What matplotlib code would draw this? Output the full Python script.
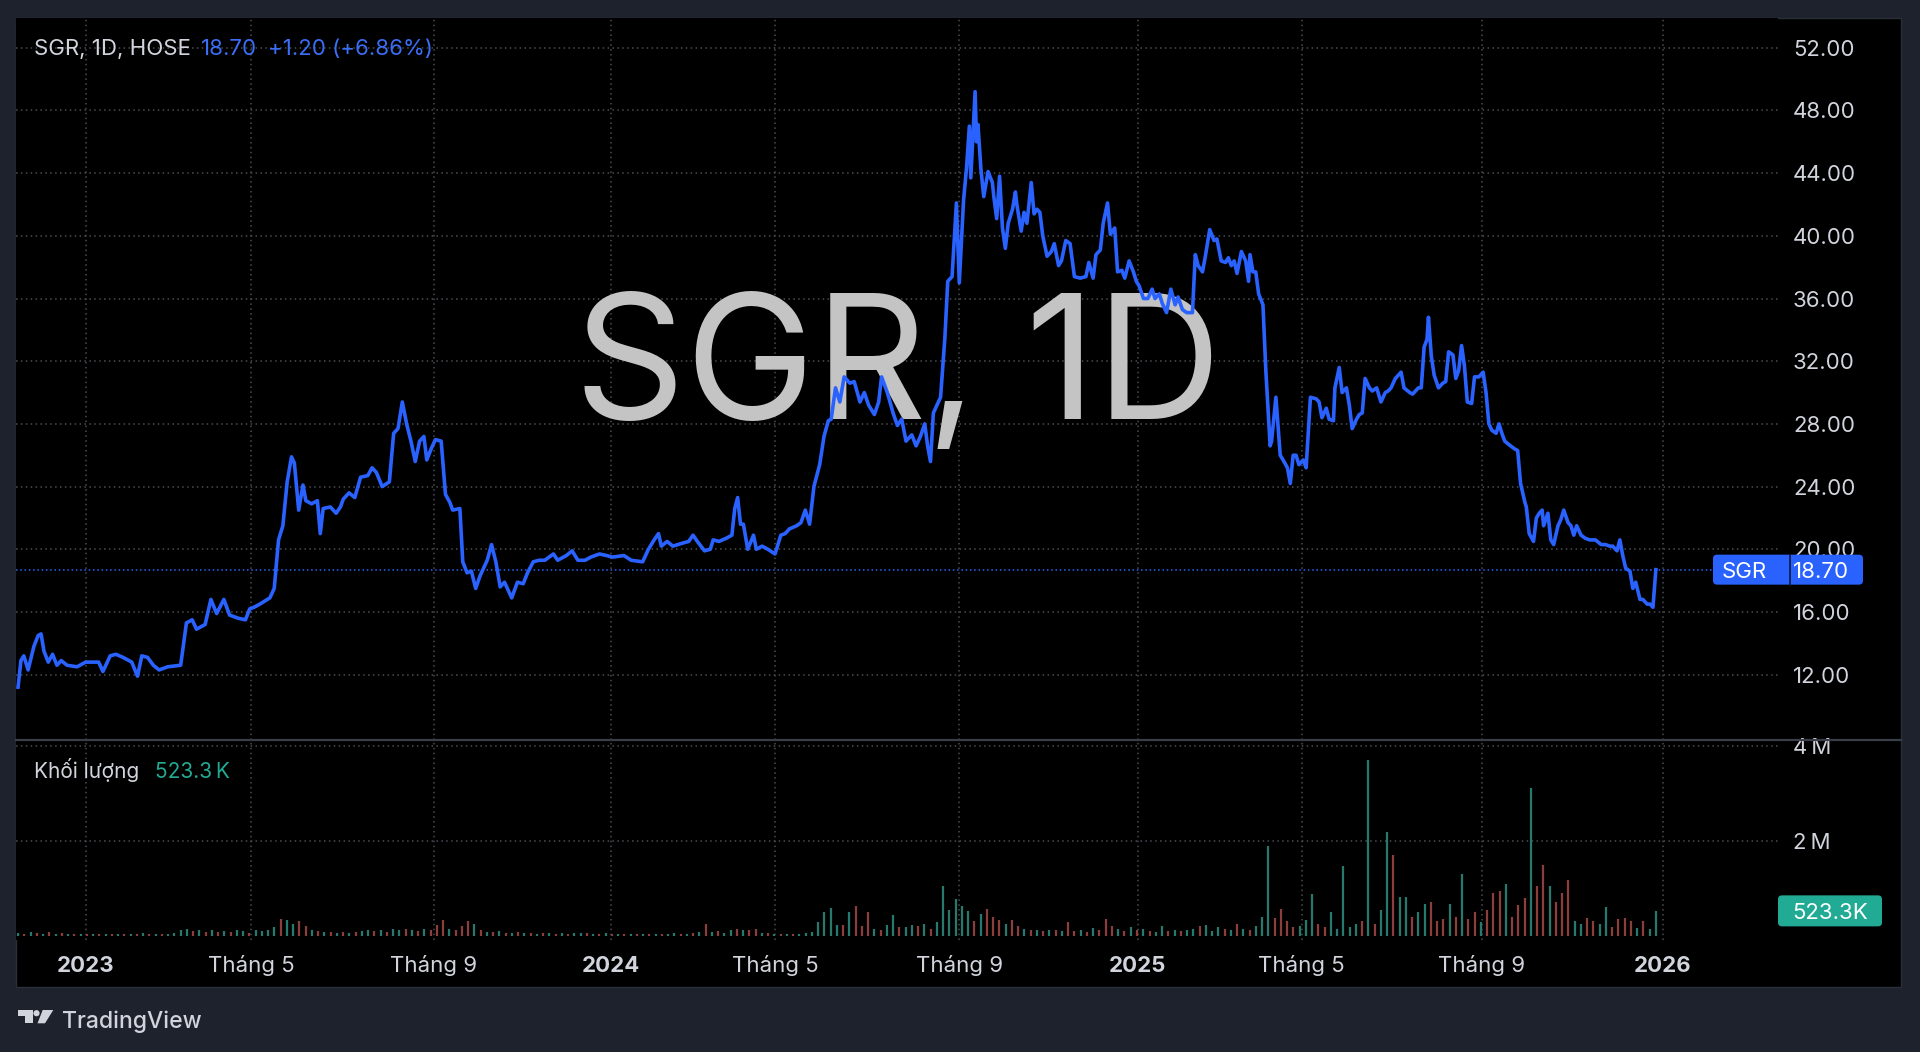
import matplotlib
matplotlib.use('Agg')
import matplotlib.pyplot as plt
import matplotlib.dates as mdates
from matplotlib.patches import Rectangle, FancyBboxPatch, Circle, Polygon
from matplotlib.lines import Line2D
from matplotlib.transforms import IdentityTransform, blended_transform_factory
import pandas as pd

plt.rcParams['font.family'] = ['Inter', 'DejaVu Sans']

# daily close of SGR (HOSE), one line per month
d22 = ['11-15', '11-17', '11-19', '11-22', '11-26', '11-29',
       '12-01', '12-03', '12-06', '12-09', '12-12', '12-15', '12-19', '12-26']
c22 = [11.2, 12.9, 13.2, 12.3, 13.8, 14.5,
       14.6, 13.5, 12.8, 13.3, 12.6, 12.9, 12.6, 12.5]

d23 = ['01-01', '01-10', '01-13', '01-18', '01-22', '01-27',
       '02-02', '02-06', '02-09', '02-13', '02-17', '02-21', '02-27',
       '03-08', '03-12', '03-16', '03-19', '03-25', '03-29',
       '04-02', '04-07', '04-11', '04-17', '04-22', '04-25', '04-28',
       '05-02', '05-09', '05-12', '05-15', '05-18', '05-21', '05-24', '05-26', '05-29',
       '06-01', '06-03', '06-07', '06-11', '06-13', '06-15', '06-20', '06-24', '06-27', '06-29',
       '07-03', '07-07', '07-11', '07-16', '07-19', '07-22', '07-26', '07-31',
       '08-03', '08-06', '08-09', '08-12', '08-15', '08-18', '08-21', '08-24', '08-26', '08-29',
       '09-01', '09-05', '09-08', '09-11', '09-13', '09-18', '09-20', '09-23', '09-26', '09-29',
       '10-02', '10-07', '10-10', '10-13', '10-16', '10-19', '10-24', '10-28',
       '11-01', '11-04', '11-08', '11-12', '11-16', '11-22', '11-25',
       '12-01', '12-05', '12-09', '12-14', '12-18', '12-24', '12-29']
c23 = [12.8, 12.8, 12.2, 13.2, 13.3, 13.1,
       12.8, 11.9, 13.2, 13.1, 12.6, 12.3, 12.5,
       12.6, 15.3, 15.5, 14.9, 15.2, 16.8,
       15.9, 16.8, 15.8, 15.6, 15.5, 16.2, 16.3,
       16.5, 16.9, 17.5, 20.6, 21.5, 24.3, 25.9, 25.5, 22.5,
       24.1, 23.1, 22.9, 23.1, 21.0, 22.6, 22.7, 22.3, 22.7, 23.2,
       23.6, 23.3, 24.6, 24.7, 25.2, 24.9, 24.0, 24.3,
       27.4, 27.7, 29.4, 28.0, 26.9, 25.6, 26.9, 27.2, 25.7, 26.4,
       27.0, 26.9, 23.5, 23.0, 22.5, 22.6, 19.2, 18.5, 18.6, 17.5,
       18.3, 19.3, 20.3, 19.2, 17.6, 17.9, 16.9, 17.9,
       17.8, 18.5, 19.2, 19.3, 19.3, 19.7, 19.3,
       19.6, 19.9, 19.3, 19.3, 19.5, 19.7, 19.6]

d24 = ['01-02', '01-10', '01-15', '01-23', '01-27', '01-31',
       '02-03', '02-05', '02-09', '02-13', '02-20', '02-24', '02-27',
       '03-01', '03-06', '03-10', '03-12', '03-16', '03-21', '03-25', '03-27', '03-29', '03-31',
       '04-02', '04-05', '04-09', '04-11', '04-15', '04-19', '04-24', '04-28',
       '05-01', '05-04', '05-09', '05-12', '05-15', '05-18', '05-21', '05-25', '05-28', '05-31',
       '06-02', '06-05', '06-08', '06-11', '06-15', '06-18', '06-22', '06-25', '06-28',
       '07-02', '07-05', '07-07', '07-11', '07-15', '07-18', '07-21', '07-24', '07-28', '07-31',
       '08-03', '08-06', '08-08', '08-10', '08-12', '08-15', '08-17', '08-20', '08-22', '08-25', '08-28', '08-30',
       '09-02', '09-04', '09-06', '09-07', '09-10', '09-11', '09-12', '09-14', '09-16', '09-19', '09-22',
       '09-23', '09-25', '09-27', '09-29',
       '10-01', '10-03', '10-06', '10-08', '10-09', '10-12', '10-14', '10-16', '10-19', '10-21', '10-23',
       '10-25', '10-27', '10-30',
       '11-02', '11-04', '11-07', '11-09', '11-12', '11-15', '11-18', '11-22', '11-26', '11-28',
       '12-01', '12-03', '12-06', '12-08', '12-11', '12-13', '12-16', '12-18', '12-21', '12-23', '12-26',
       '12-29', '12-31']
c24 = [19.5, 19.6, 19.3, 19.2, 20.0, 20.6,
       21.0, 20.2, 20.5, 20.2, 20.4, 20.5, 20.9,
       20.5, 19.9, 20.0, 20.6, 20.5, 20.7, 20.9, 22.6, 23.3, 21.6,
       21.6, 20.0, 20.9, 20.0, 20.2, 20.0, 19.7, 20.9,
       21.0, 21.3, 21.5, 21.7, 22.5, 21.6, 24.0, 25.4, 27.2, 28.2,
       28.3, 30.3, 29.4, 31.0, 30.6, 30.7, 29.4, 30.0, 29.2,
       28.6, 29.4, 31.0, 30.0, 28.7, 27.9, 28.3, 26.9, 27.3, 26.6,
       27.2, 28.0, 26.6, 25.6, 28.7, 29.3, 29.7, 33.5, 37.1, 37.4, 42.1, 37.0,
       42.3, 44.3, 47.0, 43.7, 49.2, 46.0, 47.1, 44.3, 42.5, 44.1, 43.4,
       42.5, 41.1, 43.8, 40.5,
       39.2, 40.8, 41.7, 42.8, 42.0, 40.3, 41.5, 40.8, 43.4, 41.4, 41.7,
       41.5, 40.0, 38.7,
       39.0, 39.5, 38.1, 38.4, 39.7, 39.5, 37.4, 37.3, 37.4, 38.3,
       37.3, 38.8, 39.1, 40.8, 42.1, 40.1, 40.5, 37.7, 37.8, 37.3, 38.4,
       37.7, 37.1]

d25 = ['01-02', '01-05', '01-08', '01-11', '01-13', '01-16', '01-18', '01-21', '01-24', '01-27', '01-29',
       '02-01', '02-04', '02-08', '02-10', '02-12', '02-15', '02-17', '02-20', '02-23', '02-25', '02-28',
       '03-03', '03-05', '03-07', '03-09', '03-11', '03-14', '03-17', '03-19', '03-20', '03-22', '03-24',
       '03-26', '03-29', '03-31',
       '04-03', '04-04', '04-07', '04-10', '04-12', '04-15', '04-17', '04-19', '04-21', '04-23', '04-26', '04-28',
       '05-01', '05-05', '05-07', '05-09', '05-12', '05-14', '05-17', '05-18', '05-21', '05-23', '05-26',
       '05-28', '05-30',
       '06-02', '06-04', '06-06', '06-08', '06-11', '06-13', '06-16', '06-19', '06-22', '06-24', '06-26', '06-29',
       '07-03', '07-05', '07-09', '07-11', '07-15', '07-17', '07-19', '07-21', '07-22', '07-24', '07-26', '07-29',
       '08-01', '08-03', '08-05', '08-08', '08-10', '08-12', '08-14', '08-16', '08-18', '08-21', '08-23',
       '08-26', '08-29', '08-31',
       '09-02', '09-04', '09-07', '09-09', '09-11', '09-13', '09-17', '09-20', '09-22', '09-24', '09-27',
       '09-28', '09-30',
       '10-03', '10-05', '10-07', '10-09', '10-10', '10-13', '10-15', '10-17', '10-20', '10-22', '10-24',
       '10-27', '10-29', '10-31',
       '11-02', '11-05', '11-08', '11-11', '11-15', '11-19', '11-22', '11-25', '11-27', '11-30',
       '12-02', '12-04', '12-06', '12-09', '12-11', '12-13', '12-16', '12-18', '12-21', '12-23', '12-25', '12-27']
c25 = [36.8, 36.0, 36.0, 36.6, 36.0, 36.3, 35.7, 35.1, 36.6, 35.6, 36.1,
       35.3, 35.1, 35.1, 38.8, 38.1, 37.7, 38.7, 40.4, 39.7, 39.8, 38.4,
       38.3, 38.6, 38.1, 38.4, 37.6, 39.0, 38.4, 37.1, 38.8, 37.7, 37.7,
       36.3, 35.6, 31.4,
       26.6, 26.9, 29.7, 26.0, 25.7, 25.2, 24.2, 26.0, 26.0, 25.4, 25.7, 25.2,
       29.7, 29.6, 29.4, 28.4, 29.0, 28.3, 28.2, 30.3, 31.6, 30.0, 30.3,
       29.2, 27.7,
       28.3, 28.6, 28.7, 30.9, 30.3, 30.1, 30.3, 29.4, 30.0, 30.1, 30.3, 30.9,
       31.3, 30.3, 30.0, 29.9, 30.3, 30.3, 32.9, 33.4, 34.8, 32.3, 31.1, 30.3,
       30.6, 30.7, 32.6, 32.4, 30.9, 31.4, 33.0, 31.7, 29.4, 29.3, 31.0,
       31.0, 31.3, 30.0,
       28.0, 27.6, 27.4, 28.0, 27.4, 26.9, 26.6, 26.4, 26.3, 24.2, 23.0,
       22.7, 21.0,
       20.5, 22.0, 22.3, 22.5, 21.5, 22.3, 20.6, 20.3, 21.5, 21.9, 22.5,
       21.7, 21.5, 20.9,
       21.5, 20.9, 20.7, 20.6, 20.6, 20.3, 20.3, 20.2, 20.2, 19.9,
       20.6, 19.6, 18.8, 18.6, 17.5, 17.9, 16.8, 16.8, 16.5, 16.5, 16.3, 18.7]

# volume in thousands, about seven bars a month (g = up day, r = down day)
vol_k = [60, 40, 80, 50,
         45, 70, 40, 55, 35, 40, 30,
         35, 40, 30, 45, 35, 30, 40,
         40, 35, 50, 30, 45, 40, 35,
         60, 120, 150, 90, 110, 70, 130,
         80, 100, 70, 120, 90, 60, 110,
         90, 130, 180, 350, 330, 250, 300,
         200, 120, 90, 70, 80, 60, 70,
         60, 80, 100, 120, 90, 110, 80,
         150, 130, 140, 120, 100, 150, 130,
         230, 330, 150, 110, 210, 300, 250,
         120, 80, 70, 100, 60, 50, 70,
         50, 60, 45, 55, 60, 40, 50,
         45, 55, 60, 50, 40, 45, 50,
         40, 35, 30, 40, 35, 45, 30,
         40, 45, 35, 50, 40, 45, 60,
         70, 240, 80, 100, 60, 120, 150,
         130, 110, 150, 60, 50, 45, 40,
         40, 35, 45, 60, 80, 294, 504,
         590, 230, 220, 490, 630, 200, 490,
         150, 120, 230, 430, 180, 190, 230,
         200, 250, 150, 280, 1050, 550, 780,
         630, 520, 300, 450, 570, 400, 330,
         250, 330, 200, 150, 120, 110, 100,
         110, 120, 90, 290, 100, 130, 80,
         160, 120, 350, 200, 140, 100, 190,
         120, 150, 100, 80, 200, 100, 120,
         90, 110, 150, 200, 224, 100, 180,
         150, 130, 238, 150, 120, 200, 400,
         1883, 364, 553, 300, 190, 200, 330,
         875, 250, 180, 490, 150, 1463, 180,
         250, 300, 3689, 250, 540, 2184, 1708,
         805, 805, 400, 490, 665, 707, 300,
         350, 665, 400, 1309, 350, 500, 280,
         540, 900, 945, 1085, 400, 644, 784,
         3108, 1043, 1484, 1043, 700, 889, 1183,
         300, 250, 380, 300, 250, 595, 180,
         350, 380, 300, 160, 300, 150, 523.3]
vol_dir = ('grgr' 'grgrgrg' 'rgrgrgr' 'grgrgrg' 'gggrgrg' 'rgrggrg' 'gggrggr' 'rgrgrgr'
           'grggrgr' 'ggrgrgr' 'rrgrrrg' 'rgrgrgr' 'grgrgrg' 'rggrgrg'
           'rgrgrgr' 'grggrgr' 'grgrggr' 'grrgrgr' 'grggggg' 'ggrgrrr' 'grggrgg'
           'rgrgggg' 'ggrgrrr' 'grrgrgr' 'grgrrgr' 'grrrgrg'
           'rgrggrg' 'rggrggg' 'rgrgrgg' 'grrrrgg' 'grrgggg' 'grgrggr' 'ggrggrr'
           'rgrgrrg' 'rrrgrrr' 'grrgrrr' 'ggrrggr' 'rrrgrgg')

price_ticks = [12, 16, 20, 24, 28, 32, 36, 40, 44, 48, 52]
tick_dates = ['2023-01-01', '2023-04-26', '2023-08-31', '2024-01-01', '2024-04-24',
              '2024-08-30', '2025-01-01', '2025-04-25', '2025-08-28', '2026-01-01']
tick_labels = ['2023', 'Tháng 5', 'Tháng 9', '2024', 'Tháng 5',
               'Tháng 9', '2025', 'Tháng 5', 'Tháng 9', '2026']
last_price = 18.70

W, H = 1920, 1052
BG = '#1e222d'
TXT = '#d1d4dc'
BLUE = '#2962ff'
TEAL = '#22ab94'
PIX = IdentityTransform()

dates = pd.to_datetime(['2022-' + d for d in d22] + ['2023-' + d for d in d23] +
                       ['2024-' + d for d in d24] + ['2025-' + d for d in d25])
close = c22 + c23 + c24 + c25
vol_dates = pd.date_range('2022-11-15', '2025-12-27', periods=len(vol_k))
vol_cols = ['#26796d' if c == 'g' else '#8c3e3c' for c in vol_dir]

fig = plt.figure(figsize=(W / 100, H / 100), dpi=100, facecolor=BG)

# black chart panel
fig.add_artist(Rectangle((16, H - 987), 1885, 969, transform=PIX,
                         facecolor='black', edgecolor='#2a2e39', lw=1, zorder=-1))

ax = fig.add_axes([16 / W, 1 - 740 / H, 1762 / W, 722 / H])
axv = fig.add_axes([16 / W, 1 - 940 / H, 1762 / W, 199 / H])

x0 = mdates.date2num(pd.Timestamp('2022-11-13 14:00'))
x1 = mdates.date2num(pd.Timestamp('2026-03-21 21:00'))
tick_nums = mdates.date2num(pd.to_datetime(tick_dates))

for a in (ax, axv):
    a.set_facecolor('black')
    for s in a.spines.values():
        s.set_visible(False)
    a.set_xlim(x0, x1)
    a.set_xticks(tick_nums)
    a.tick_params(axis='x', length=0, labelbottom=False)
    a.yaxis.tick_right()
    a.tick_params(axis='y', length=0, pad=10.8, labelsize=16, labelcolor=TXT)
    a.grid(True, color='#4a4d54', ls=(0, (1, 2.2)), lw=1.1)
    a.set_axisbelow(True)

# price pane
ax.set_ylim(7.83, 53.9)
ax.set_yticks(price_ticks)
ax.set_yticklabels([f'{v:.2f}' for v in price_ticks])
ax.text(0.5006, 0.4446, 'SGR, 1D', transform=ax.transAxes, ha='center', va='baseline',
        fontsize=125, color='#c4c4c4', zorder=1)
ax.axhline(last_price, xmin=0, xmax=(1713 - 16) / 1762, color=BLUE, ls=(0, (1, 1.8)), lw=1.1, zorder=2)
ax.plot(dates, close, color=BLUE, lw=2.6, zorder=3)

# volume pane
axv.set_ylim(-90, 4099)
axv.set_yticks([2000, 4000])
axv.set_yticklabels(['2\u2009M', '4\u2009M'])
axv.vlines(vol_dates, 0, vol_k, colors=vol_cols, lw=1.6, zorder=2)

fig.add_artist(Line2D([16, 1901], [H - 740, H - 740], transform=PIX, color='#3a3e49', lw=1.6, zorder=5))

# legends
fig.text(34, H - 55, 'SGR, 1D, HOSE', transform=PIX, fontsize=16, color=TXT, va='baseline')
fig.text(201, H - 55, f'{last_price:.2f}', transform=PIX, fontsize=16, color='#3b6ef6', va='baseline')
fig.text(268, H - 55, '+1.20 (+6.86%)', transform=PIX, fontsize=16, color='#3b6ef6', va='baseline')
fig.text(34, H - 778, 'Khối lượng', transform=PIX, fontsize=15, color=TXT, va='baseline')
fig.text(155, H - 778, f'{vol_k[-1]:.1f}\u2009K', transform=PIX, fontsize=15, color=TEAL, va='baseline')

# last price tag
yp = ax.transData.transform((x0, last_price))[1]
fig.add_artist(FancyBboxPatch((1713, yp - 15), 150, 30, boxstyle='round,pad=0,rounding_size=4',
                              transform=PIX, facecolor=BLUE, edgecolor='none', zorder=6))
fig.add_artist(Line2D([1790, 1790], [yp - 15, yp + 15], transform=PIX, color='#0c1a3a', lw=1.2, zorder=7))
fig.text(1744, yp, 'SGR', transform=PIX, fontsize=16, color='white', ha='center', va='center_baseline', zorder=8)
fig.text(1793, yp, f'{last_price:.2f}', transform=PIX, fontsize=16, color='white', ha='left',
         va='center_baseline', zorder=8)

# last volume tag
yv = axv.transData.transform((x0, vol_k[-1]))[1]
fig.add_artist(FancyBboxPatch((1778, yv - 15.5), 104, 31, boxstyle='round,pad=0,rounding_size=4',
                              transform=PIX, facecolor=TEAL, edgecolor='none', zorder=6))
fig.text(1830, yv, f'{vol_k[-1]:.1f}K', transform=PIX, fontsize=16, color='white', ha='center',
         va='center_baseline', zorder=8)

# time axis labels
tx = blended_transform_factory(axv.transData, PIX)
for num, lab in zip(tick_nums, tick_labels):
    fig.text(num, H - 972, lab, transform=tx, ha='center', va='baseline', fontsize=16, color=TXT,
             fontweight='bold' if lab.isdigit() else 'normal')

# TradingView logo
LOGO = '#d1d4dc'
fig.add_artist(Rectangle((18.3, H - 1015.7), 14.4, 5.7, transform=PIX, facecolor=LOGO, edgecolor='none'))
fig.add_artist(Rectangle((25, H - 1023.3), 7.7, 8, transform=PIX, facecolor=LOGO, edgecolor='none'))
fig.add_artist(Circle((36.5, H - 1013.2), 3.1, transform=PIX, facecolor=LOGO, edgecolor='none'))
fig.add_artist(Polygon([(42.7, H - 1010), (53.3, H - 1010), (45, H - 1023.3), (37.5, H - 1023.3)],
                       transform=PIX, facecolor=LOGO, edgecolor='none'))
fig.text(61.7, H - 1027.7, 'TradingView', transform=PIX, fontsize=16.5, fontweight='medium',
         color=LOGO, va='baseline')

fig.savefig('out.png', dpi=100, facecolor=BG)
